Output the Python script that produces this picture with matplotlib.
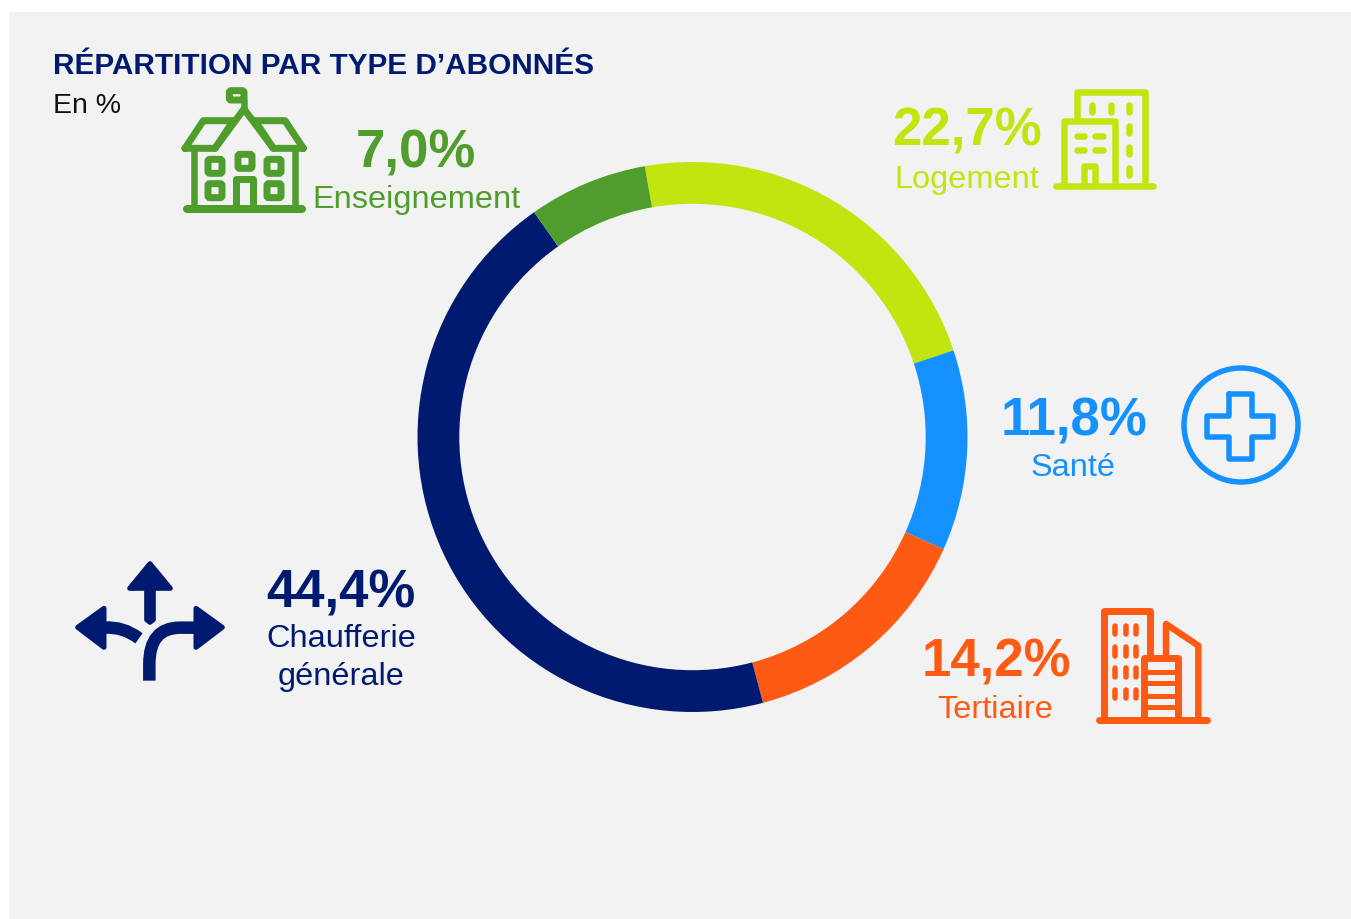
import matplotlib
matplotlib.use('Agg')
import matplotlib.pyplot as plt
from matplotlib.patches import Rectangle, FancyBboxPatch, Circle, Polygon, PathPatch
from matplotlib.path import Path

plt.rcParams['font.family'] = ['Liberation Sans', 'DejaVu Sans']

# Data
categories = ['Logement', 'Santé', 'Tertiaire', 'Chauffage collectif', 'Enseignement']
values = [22.7, 11.8, 14.2, 44.4, 7.0]
pct_labels = ['22,7%', '11,8%', '14,2%', '44,4%', '7,0%']
text_labels = ['Logement', 'Santé', 'Tertiaire', 'Chaufferie\ngénérale', 'Enseignement']
colors = ['#C1E50F', '#1591FF', '#FF5A14', '#001A70', '#4F9E2D']

W, H = 1351, 920
PX = 0.72  # one pixel in points at dpi 100

fig = plt.figure(figsize=(W / 100, H / 100), dpi=100, facecolor='white')

# Full figure axes in pixel coordinates, for background, texts and icons
bg = fig.add_axes([0, 0, 1, 1])
bg.set_xlim(0, W)
bg.set_ylim(H, 0)
bg.axis('off')
bg.add_patch(Rectangle((9, 13), W - 9, H - 13, facecolor='#F2F2F2', edgecolor='none'))

# Donut
cx, cy, r = 692.5, 438, 275
ax = fig.add_axes([(cx - r) / W, 1 - (cy + r) / H, 2 * r / W, 2 * r / H])
ax.pie(values, colors=colors, startangle=100, counterclock=False, radius=1,
       wedgeprops={'width': 0.152, 'linewidth': 0})
ax.set_xlim(-1, 1)
ax.set_ylim(-1, 1)
ax.patch.set_visible(False)

# Title
bg.text(53, 66, 'RÉPARTITION PAR TYPE D’ABONNÉS', color='#001A70', fontsize=21.4,
        fontweight='bold', va='center', ha='left')
bg.text(53, 106, 'En %', color='#111111', fontsize=20.5, va='center', ha='left')

# Labels
pct_pos = [(967, 132), (1074, 422), (996, 663), (341, 594), (416, 154)]
txt_pos = [(967, 180), (1073, 468), (995, 710), (341, 658), (416, 200)]
for i in range(len(values)):
    bg.text(*pct_pos[i], pct_labels[i], color=colors[i], fontsize=38, fontweight='bold',
            ha='center', va='center')
    bg.text(*txt_pos[i], text_labels[i], color=colors[i], fontsize=23.4, ha='center',
            va='center', linespacing=1.33)


def stroke(pts, ox, oy, color, w=6, cap='round', close=False):
    # pts are given in 3x crop coordinates around the icon
    pts = list(pts)
    if close:
        pts = pts + [pts[0]]
    bg.plot([ox + p[0] / 3 for p in pts], [oy + p[1] / 3 for p in pts], color=color,
            lw=w * PX, solid_capstyle=cap, solid_joinstyle='round')


def rbox(x0, y0, x1, y1, ox, oy, color, w=6, pad=3):
    bg.add_patch(FancyBboxPatch((ox + x0 / 3 + pad, oy + y0 / 3 + pad),
                                (x1 - x0) / 3 - 2 * pad, (y1 - y0) / 3 - 2 * pad,
                                boxstyle=f'round,pad={pad}', facecolor='none',
                                edgecolor=color, lw=w * PX))


# Enseignement icon
c, ox, oy = colors[4], 170, 80
stroke([(50, 390), (395, 390)], ox, oy, c, 8)
stroke([(72, 390), (72, 210)], ox, oy, c, 6.5)
stroke([(375, 390), (375, 210)], ox, oy, c, 6.5)
stroke([(45, 208), (100, 125), (190, 125), (135, 208)], ox, oy, c, 7, close=True)
stroke([(400, 208), (345, 125), (255, 125), (310, 208)], ox, oy, c, 7, close=True)
stroke([(135, 208), (222, 90), (310, 208)], ox, oy, c, 7)
stroke([(222, 90), (222, 62)], ox, oy, c, 6.5)
rbox(178, 35, 222, 63, ox, oy, c, 7, pad=2)
for wx, wy in [(135, 262), (135, 335), (312, 262), (312, 335), (225, 247)]:
    rbox(wx - 21, wy - 21, wx + 21, wy + 21, ox, oy, c, 7, pad=2)
stroke([(197, 390), (197, 300), (250, 300), (250, 390)], ox, oy, c, 7)

# Logement icon
c, ox, oy = colors[0], 1045, 80
stroke([(32, 322), (325, 322)], ox, oy, c, 6.5)
stroke([(97, 120), (97, 40), (300, 40), (300, 322)], ox, oy, c, 6.5)
stroke([(58, 322), (58, 125), (210, 125), (210, 322)], ox, oy, c, 6.5)
stroke([(118, 322), (118, 262), (150, 262), (150, 322)], ox, oy, c, 6.5)
for dx in [142, 197, 253]:
    stroke([(dx, 78), (dx, 98)], ox, oy, c, 6.5)
for dy in [142, 205, 267]:
    stroke([(253, dy), (253, dy + 20)], ox, oy, c, 6.5)
for dy in [172, 212]:
    stroke([(95, dy), (118, dy)], ox, oy, c, 6.5)
    stroke([(150, dy), (173, dy)], ox, oy, c, 6.5)

# Santé icon
c = colors[1]
bg.add_patch(Circle((1241, 426), 57, facecolor='none', edgecolor=c, lw=5.5 * PX))
ox, oy = 1170, 355
stroke([(178, 120), (245, 120), (245, 185), (310, 185), (310, 250), (245, 250), (245, 315),
        (178, 315), (178, 250), (112, 250), (112, 185), (178, 185)], ox, oy, c, 5.5, close=True)

# Tertiaire icon
c, ox, oy = colors[2], 1090, 600
stroke([(28, 362), (350, 362)], ox, oy, c, 7)
stroke([(42, 362), (42, 35), (180, 35), (180, 170)], ox, oy, c, 7)
stroke([(163, 362), (163, 178), (265, 178), (265, 362)], ox, oy, c, 7)
for dy in [218, 253, 290, 325]:
    stroke([(163, dy), (265, dy)], ox, oy, c, 5, cap='butt')
stroke([(228, 170), (228, 75), (325, 140), (325, 362)], ox, oy, c, 6.5)
for dx in [75, 107, 138]:
    for dy in [80, 145, 208, 272]:
        stroke([(dx, dy), (dx, dy + 25)], ox, oy, c, 5.5)

# Chaufferie icon
c, ox, oy = colors[3], 65, 550


def fill(pts):
    bg.add_patch(Polygon([(ox + p[0] / 3, oy + p[1] / 3) for p in pts], closed=True,
                         facecolor=c, edgecolor=c, lw=5 * PX, joinstyle='round'))


def curve(verts, codes):
    bg.add_patch(PathPatch(Path([(ox + p[0] / 3, oy + p[1] / 3) for p in verts], codes),
                           facecolor='none', edgecolor=c, lw=12.5 * PX, capstyle='butt'))


fill([(255, 44), (316, 118), (265, 118), (265, 212), (255, 220), (245, 212), (245, 118), (194, 118)])
fill([(38, 235), (117, 178), (117, 295)])
fill([(472, 235), (393, 178), (393, 295)])
curve([(118, 236), (175, 232), (222, 268)], [Path.MOVETO, Path.CURVE3, Path.CURVE3])
curve([(253, 395), (253, 345), (253, 236), (345, 236), (392, 236)],
      [Path.MOVETO, Path.LINETO, Path.CURVE3, Path.CURVE3, Path.LINETO])

fig.savefig('out.png', dpi=100, facecolor='white')
